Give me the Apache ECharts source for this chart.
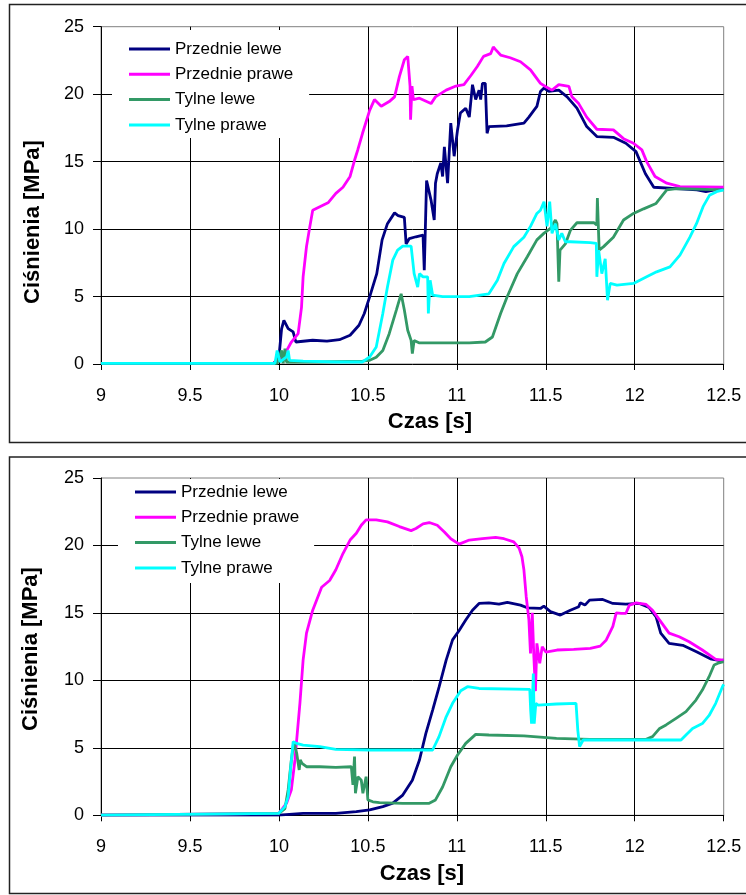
<!DOCTYPE html>
<html><head><meta charset="utf-8">
<script src="https://cdn.jsdelivr.net/npm/echarts@6/dist/echarts.min.js"></script>
<style>html,body{margin:0;padding:0;background:#fff}#c{width:746px;height:895px}</style>
</head><body><div id="c"></div>
<script>
var seriesNames = ['Przednie lewe', 'Przednie prawe', 'Tylne lewe', 'Tylne prawe'];
var xTicks = [9, 9.5, 10, 10.5, 11, 11.5, 12, 12.5];
var yTicks = [0, 5, 10, 15, 20, 25];
var xTitle = 'Czas [s]';
var yTitle = 'Ciśnienia [MPa]';

// Top chart
var topPL = [[9,0.05],[9.97,0.05],[10.0,0.5],[10.015,2.6],[10.028,3.24],[10.052,2.62],[10.08,2.38],[10.095,1.63],[10.19,1.76],[10.27,1.7],[10.34,1.8],[10.40,2.13],[10.45,2.87],[10.48,3.74],[10.51,4.98],[10.55,6.7],[10.58,9.2],[10.61,10.4],[10.65,11.2],[10.67,11.0],[10.705,10.87],[10.715,8.9],[10.733,9.3],[10.77,9.43],[10.81,9.55],[10.817,6.96],[10.83,13.6],[10.855,12.15],[10.873,10.67],[10.88,13.4],[10.89,14.1],[10.91,14.9],[10.92,13.9],[10.93,16.1],[10.948,13.4],[10.966,17.85],[10.985,15.4],[11.004,17.35],[11.02,18.6],[11.05,18.96],[11.07,18.3],[11.088,20.7],[11.106,19.6],[11.125,20.3],[11.134,19.6],[11.144,20.8],[11.16,20.8],[11.17,17.1],[11.18,17.6],[11.19,17.5],[11.28,17.65],[11.377,17.85],[11.405,18.3],[11.433,18.8],[11.45,19.1],[11.47,20.2],[11.49,20.45],[11.517,20.2],[11.573,20.3],[11.62,19.8],[11.675,18.96],[11.73,17.6],[11.787,16.86],[11.88,16.8],[11.95,16.36],[12.007,15.74],[12.06,14.1],[12.107,13.1],[12.235,13.0],[12.35,12.9],[12.40,12.77],[12.45,12.9],[12.5,12.95]];
var topPP = [[9,0.05],[9.97,0.05],[10.0,0.27],[10.034,0.77],[10.07,1.63],[10.108,2.25],[10.127,4.2],[10.136,6.46],[10.155,8.7],[10.174,10.2],[10.19,11.4],[10.23,11.66],[10.276,11.95],[10.32,12.65],[10.36,13.1],[10.40,13.9],[10.425,15.1],[10.444,15.9],[10.47,17.1],[10.51,18.8],[10.537,19.6],[10.575,19.1],[10.62,19.45],[10.65,19.8],[10.677,21.3],[10.705,22.55],[10.724,22.8],[10.737,20.6],[10.74,18.1],[10.748,20.6],[10.756,19.6],[10.79,19.7],[10.855,19.3],[10.88,19.8],[10.94,20.3],[10.995,20.6],[11.04,20.7],[11.08,21.4],[11.115,22.05],[11.15,22.8],[11.19,23.0],[11.205,23.5],[11.218,23.3],[11.246,22.9],[11.30,22.7],[11.358,22.4],[11.414,21.8],[11.47,20.8],[11.498,20.57],[11.535,20.3],[11.573,20.7],[11.63,20.57],[11.647,19.8],[11.685,19.3],[11.73,18.3],[11.787,17.4],[11.88,17.35],[11.937,16.7],[11.993,16.36],[12.04,15.87],[12.067,15.0],[12.114,13.9],[12.18,13.4],[12.254,13.14],[12.5,13.1]];
var topTL = [[9,0.05],[9.99,0.05],[10.015,1.0],[10.024,0.05],[10.034,1.14],[10.043,0.15],[10.23,0.15],[10.47,0.22],[10.51,0.27],[10.547,0.5],[10.584,1.0],[10.62,2.25],[10.66,4.0],[10.687,5.2],[10.705,4.0],[10.724,2.5],[10.743,1.75],[10.75,0.77],[10.76,1.75],[10.79,1.56],[10.88,1.56],[11.07,1.56],[11.16,1.63],[11.2,2.0],[11.246,3.74],[11.283,4.98],[11.34,6.7],[11.396,7.95],[11.45,9.2],[11.489,9.68],[11.526,10.05],[11.554,10.67],[11.563,10.4],[11.573,6.1],[11.58,8.44],[11.61,8.9],[11.638,9.9],[11.675,10.47],[11.77,10.47],[11.787,10.3],[11.79,12.3],[11.8,8.44],[11.825,8.7],[11.88,9.4],[11.937,10.67],[11.993,11.16],[12.05,11.5],[12.12,11.9],[12.18,12.9],[12.235,13.0],[12.5,12.9]];
var topTP = [[9,0.05],[9.978,0.05],[9.99,1.0],[10.006,0.15],[10.043,0.52],[10.052,1.0],[10.06,0.27],[10.136,0.22],[10.32,0.15],[10.47,0.15],[10.51,0.52],[10.547,1.26],[10.584,3.74],[10.61,5.7],[10.64,7.7],[10.667,8.44],[10.696,8.74],[10.743,8.74],[10.76,6.7],[10.78,5.7],[10.79,6.7],[10.81,6.46],[10.836,6.46],[10.84,3.74],[10.85,6.2],[10.864,5.1],[10.92,5.0],[11.07,5.0],[11.18,5.2],[11.228,6.2],[11.265,7.45],[11.32,8.7],[11.377,9.4],[11.414,10.2],[11.45,11.16],[11.47,11.4],[11.49,12.03],[11.507,10.2],[11.522,12.03],[11.535,9.68],[11.554,10.4],[11.573,9.2],[11.59,9.68],[11.61,9.06],[11.638,9.06],[11.75,9.0],[11.784,8.94],[11.787,6.46],[11.797,8.44],[11.815,6.7],[11.834,7.8],[11.847,4.73],[11.862,5.97],[11.9,5.84],[11.993,5.97],[12.067,6.46],[12.123,6.83],[12.198,7.2],[12.254,8.07],[12.31,9.4],[12.347,10.4],[12.384,11.66],[12.42,12.5],[12.46,12.77],[12.5,12.9]];

// Bottom chart
var botPL = [[9,0.02],[10.0,0.02],[10.136,0.15],[10.32,0.15],[10.435,0.27],[10.51,0.4],[10.584,0.64],[10.64,0.9],[10.696,1.5],[10.75,2.6],[10.79,4.1],[10.826,6.07],[10.864,7.8],[10.90,9.5],[10.94,11.5],[10.976,13.0],[11.013,13.7],[11.05,14.47],[11.088,15.2],[11.125,15.7],[11.18,15.75],[11.237,15.65],[11.284,15.78],[11.358,15.58],[11.396,15.38],[11.47,15.33],[11.489,15.5],[11.526,15.1],[11.582,14.84],[11.638,15.2],[11.685,15.46],[11.694,15.75],[11.72,15.58],[11.746,15.95],[11.82,16.0],[11.877,15.7],[11.95,15.65],[12.026,15.7],[12.08,15.4],[12.12,14.7],[12.146,13.5],[12.193,12.74],[12.27,12.6],[12.35,12.1],[12.425,11.6],[12.48,11.46],[12.5,11.5]];
var botPP = [[9,0.02],[10.0,0.15],[10.043,0.9],[10.07,1.9],[10.09,4.1],[10.118,8.3],[10.136,11.5],[10.155,13.5],[10.19,15.2],[10.24,16.9],[10.285,17.4],[10.32,18.2],[10.36,19.4],[10.40,20.4],[10.435,20.9],[10.463,21.5],[10.49,21.9],[10.547,21.9],[10.61,21.75],[10.677,21.4],[10.743,21.1],[10.77,21.26],[10.81,21.6],[10.845,21.7],[10.89,21.5],[10.93,21.0],[10.966,20.5],[11.013,20.1],[11.07,20.4],[11.144,20.5],[11.218,20.6],[11.265,20.5],[11.32,20.27],[11.35,19.8],[11.366,19.16],[11.377,18.2],[11.39,16.2],[11.405,14.5],[11.414,12.0],[11.424,15.0],[11.433,11.75],[11.442,9.2],[11.45,12.74],[11.466,11.26],[11.48,12.5],[11.5,12.1],[11.563,12.25],[11.657,12.3],[11.75,12.37],[11.806,12.54],[11.84,13.0],[11.877,14.0],[11.896,15.0],[11.924,14.96],[11.95,14.96],[11.97,15.58],[12.008,15.75],[12.064,15.63],[12.1,15.2],[12.14,14.47],[12.193,13.5],[12.25,13.23],[12.306,12.86],[12.38,12.25],[12.455,11.56],[12.5,11.5]];
var botTL = [[9,0.02],[10.0,0.15],[10.034,0.5],[10.052,1.9],[10.07,4.1],[10.084,5.46],[10.1,4.6],[10.114,3.36],[10.12,4.1],[10.13,3.85],[10.155,3.6],[10.23,3.6],[10.32,3.55],[10.407,3.6],[10.416,2.25],[10.425,4.35],[10.43,1.63],[10.444,2.86],[10.463,2.6],[10.472,1.63],[10.49,2.86],[10.5,1.14],[10.528,1.0],[10.565,0.94],[10.696,0.89],[10.845,0.89],[10.88,1.14],[10.92,2.1],[10.966,3.6],[11.004,4.47],[11.05,5.33],[11.106,6.0],[11.18,5.95],[11.377,5.88],[11.56,5.7],[11.747,5.63],[12.064,5.63],[12.1,5.83],[12.14,6.44],[12.176,6.7],[12.232,7.19],[12.288,7.68],[12.344,8.54],[12.38,9.28],[12.418,10.27],[12.446,11.14],[12.474,11.3],[12.5,11.38]];
var botTP = [[9,0.02],[10.0,0.15],[10.034,0.64],[10.052,1.38],[10.065,3.36],[10.08,5.46],[10.1,5.33],[10.136,5.2],[10.23,5.09],[10.32,4.89],[10.51,4.84],[10.864,4.84],[10.90,5.83],[10.94,7.3],[10.976,8.3],[11.022,9.23],[11.06,9.53],[11.125,9.4],[11.41,9.33],[11.415,7.8],[11.42,6.8],[11.43,10.5],[11.435,6.8],[11.444,8.3],[11.457,8.17],[11.56,8.25],[11.67,8.3],[11.68,6.3],[11.69,5.09],[11.71,5.58],[12.26,5.58],[12.288,5.95],[12.325,6.44],[12.38,6.8],[12.418,7.4],[12.455,8.3],[12.493,9.53],[12.5,9.7]];

var colors = ['#000080', '#FF00FF', '#339966', '#00FFFF'];
var FONT = "'Liberation Sans', Arial, sans-serif";

var chart = echarts.init(document.getElementById('c'), null, {renderer: 'canvas'});

function xAxisDef(gi) {
  return {
    type: 'value', gridIndex: gi, min: xTicks[0], max: xTicks[xTicks.length - 1], interval: xTicks[1] - xTicks[0],
    axisLine: {show: true, onZero: false, lineStyle: {color: '#000', width: 1}},
    axisTick: {show: true, inside: false, length: 6, lineStyle: {color: '#000'}},
    axisLabel: {color: '#000', fontSize: 18, fontFamily: FONT, margin: 23},
    splitLine: {show: true, showMinLine: false, showMaxLine: false, lineStyle: {color: '#000', width: 1}}
  };
}
function yAxisDef(gi) {
  return {
    type: 'value', gridIndex: gi, min: yTicks[0], max: yTicks[yTicks.length - 1], interval: yTicks[1] - yTicks[0],
    axisLine: {show: true, lineStyle: {color: '#000', width: 1}},
    axisTick: {show: true, inside: false, length: 8, lineStyle: {color: '#000'}},
    axisLabel: {color: '#000', fontSize: 18, fontFamily: FONT, margin: 17},
    splitLine: {show: true, showMinLine: false, showMaxLine: false, lineStyle: {color: '#000', width: 1}}
  };
}
function lineSeries(name, data, idx, gi) {
  return {
    type: 'line', name: name, data: data, xAxisIndex: gi, yAxisIndex: gi,
    symbol: 'none', showSymbol: false, clip: true,
    lineStyle: {color: colors[idx], width: 2.8},
    itemStyle: {color: colors[idx]},
    emphasis: {disabled: true}
  };
}
function legendDef(left, top, padding) {
  return {
    data: seriesNames, orient: 'vertical', left: left, top: top,
    icon: 'rect', itemWidth: 41, itemHeight: 3, itemGap: 3.3,
    backgroundColor: '#fff', padding: padding, selectedMode: false,
    textStyle: {color: '#000', fontSize: 17, fontFamily: FONT, lineHeight: 22}
  };
}

var option = {
  animation: false,
  backgroundColor: '#fff',
  grid: [
    {left: 101, top: 26.7, width: 622.7, height: 337.3, show: true, borderColor: '#808080', borderWidth: 1, backgroundColor: 'transparent'},
    {left: 101, top: 478, width: 622.7, height: 337.3, show: true, borderColor: '#808080', borderWidth: 1, backgroundColor: 'transparent'}
  ],
  xAxis: [xAxisDef(0), xAxisDef(1)],
  yAxis: [yAxisDef(0), yAxisDef(1)],
  legend: [
    legendDef(112, 30, [8, 16, 2, 17]),
    legendDef(118, 479, [2, 15, 4, 17])
  ],
  series: [
    lineSeries(seriesNames[0], topPL, 0, 0),
    lineSeries(seriesNames[1], topPP, 1, 0),
    lineSeries(seriesNames[2], topTL, 2, 0),
    lineSeries(seriesNames[3], topTP, 3, 0),
    lineSeries(seriesNames[0], botPL, 0, 1),
    lineSeries(seriesNames[1], botPP, 1, 1),
    lineSeries(seriesNames[2], botTL, 2, 1),
    lineSeries(seriesNames[3], botTP, 3, 1)
  ],
  graphic: [
    {type: 'rect', silent: true, z: -10, shape: {x: 9.5, y: 4.5, width: 760, height: 438}, style: {fill: 'none', stroke: '#222', lineWidth: 1.5}},
    {type: 'rect', silent: true, z: -10, shape: {x: 9.5, y: 457, width: 760, height: 436.5}, style: {fill: 'none', stroke: '#222', lineWidth: 1.5}},
    {type: 'text', silent: true, x: 430, y: 422, style: {text: xTitle, font: "bold 22px 'Liberation Sans', Arial, sans-serif", fill: '#000', textAlign: 'center', textVerticalAlign: 'middle'}},
    {type: 'text', silent: true, x: 422, y: 874, style: {text: xTitle, font: "bold 22px 'Liberation Sans', Arial, sans-serif", fill: '#000', textAlign: 'center', textVerticalAlign: 'middle'}},
    {type: 'text', silent: true, x: 33, y: 222, rotation: Math.PI / 2, style: {text: yTitle, font: "bold 22px 'Liberation Sans', Arial, sans-serif", fill: '#000', textAlign: 'center', textVerticalAlign: 'middle'}},
    {type: 'text', silent: true, x: 31, y: 649, rotation: Math.PI / 2, style: {text: yTitle, font: "bold 22px 'Liberation Sans', Arial, sans-serif", fill: '#000', textAlign: 'center', textVerticalAlign: 'middle'}}
  ]
};
chart.setOption(option);
</script>
</body></html>
